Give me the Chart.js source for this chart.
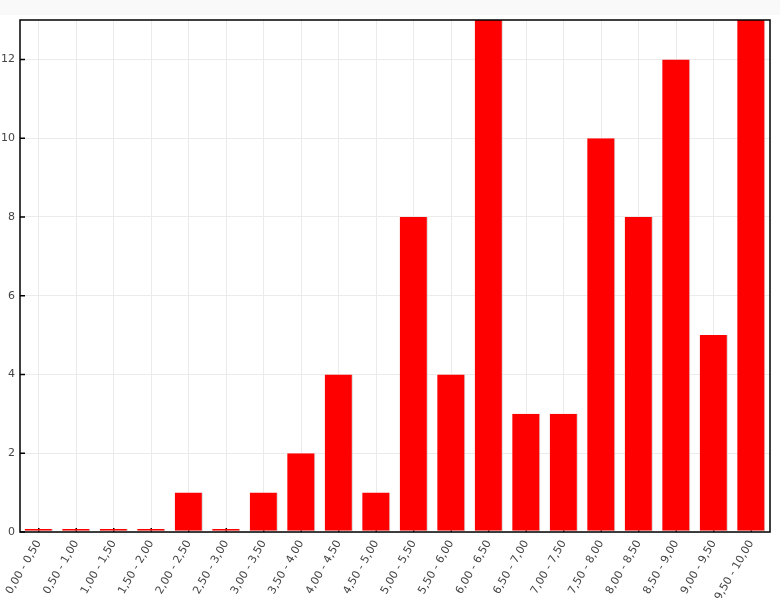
<!DOCTYPE html>
<html><head><meta charset="utf-8">
<script src="https://cdn.jsdelivr.net/npm/chart.js@4/dist/chart.umd.min.js"></script>
<style>
html,body{margin:0;padding:0;background:#fff;}
#band{position:absolute;left:0;top:0;width:780px;height:15px;background:#f9f9f9;}
#wrap{position:absolute;left:0;top:0;width:780px;height:598px;}
</style></head>
<body>
<div id="band"></div>
<div id="wrap"><canvas id="c" width="780" height="598"></canvas></div>
<script>
const categories = ["0,00 - 0,50","0,50 - 1,00","1,00 - 1,50","1,50 - 2,00","2,00 - 2,50","2,50 - 3,00","3,00 - 3,50","3,50 - 4,00","4,00 - 4,50","4,50 - 5,00","5,00 - 5,50","5,50 - 6,00","6,00 - 6,50","6,50 - 7,00","7,00 - 7,50","7,50 - 8,00","8,00 - 8,50","8,50 - 9,00","9,00 - 9,50","9,50 - 10,00"];
const counts = [0,0,0,0,1,0,1,2,4,1,8,4,13,3,3,10,8,12,5,13];
const yTicks = [0,2,4,6,8,10,12];

const frame = {
  id:'frame',
  beforeDatasetsDraw(chart){
    const {ctx, chartArea:a, scales:{x}} = chart;
    ctx.save();
    ctx.strokeStyle='#000'; ctx.lineWidth=1.5;
    ctx.beginPath();
    for(let i=0;i<categories.length;i++){
      const px=x.getPixelForValue(i);
      ctx.moveTo(px,a.bottom); ctx.lineTo(px,a.bottom-4);
    }
    ctx.stroke();
    ctx.restore();
  },
  afterDatasetsDraw(chart){
    const {ctx, chartArea:a, scales:{y}} = chart;
    ctx.save();
    ctx.strokeStyle='#000'; ctx.lineWidth=1.5;
    ctx.strokeRect(a.left, a.top, a.right-a.left, a.bottom-a.top);
    ctx.beginPath();
    yTicks.forEach(v=>{const py=y.getPixelForValue(v); ctx.moveTo(a.left,py); ctx.lineTo(a.left+5,py);});
    ctx.stroke();
    ctx.restore();
  }
};

new Chart(document.getElementById('c'),{
  type:'bar',
  data:{labels:categories,datasets:[{data:counts,backgroundColor:'#ff0000',borderColor:'#d0d0d0',borderWidth:{right:1,bottom:1,left:0,top:0},borderSkipped:false,minBarLength:3,barPercentage:0.75,categoryPercentage:1}]},
  options:{
    responsive:false,animation:false,
    layout:{padding:{top:20,right:10,left:0,bottom:0}},
    plugins:{legend:{display:false},tooltip:{enabled:false}},
    scales:{
      x:{grid:{color:'#ebebeb',drawTicks:false,offset:false},border:{display:false},
         afterFit(s){s.height=66;},
         ticks:{color:'#444',font:{family:'DejaVu Sans',size:11},maxRotation:60,minRotation:60,padding:6,autoSkip:false}},
      y:{min:0,max:13,grid:{color:'#ebebeb',drawTicks:false},border:{display:false},
         afterFit(s){s.width=20;},
         afterBuildTicks(s){s.ticks=yTicks.map(v=>({value:v}));},
         ticks:{color:'#444',font:{family:'DejaVu Sans',size:11},padding:5}}
    }
  },
  plugins:[frame]
});
</script>
</body></html>
